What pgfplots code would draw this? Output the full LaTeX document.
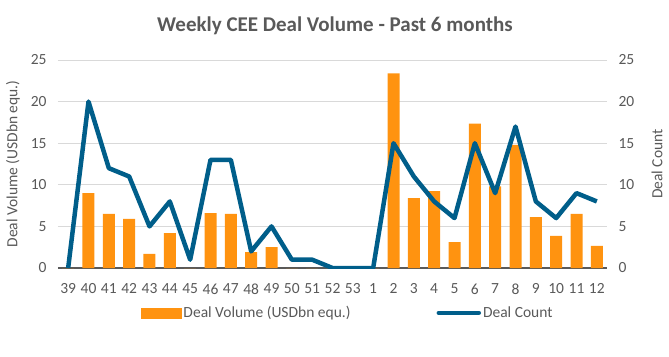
\documentclass[border=0pt]{standalone}
\usepackage{pgfplots}
\pgfplotsset{compat=1.18}
\usepackage{fontspec}
\setmainfont{Carlito}
\definecolor{barorange}{RGB}{255,147,16}
\definecolor{lineblue}{RGB}{0,94,138}
\definecolor{txtgray}{RGB}{89,89,89}
\definecolor{gridgray}{RGB}{217,217,217}
\newcommand{\tfont}{\fontsize{15.5}{18}\selectfont}
\begin{document}
\begin{tikzpicture}
\path[use as bounding box] (-58pt,-88pt) rectangle (611pt,268pt);
\pgfplotsset{common/.style={
  scale only axis, width=549pt, height=208pt, at={(0pt,0pt)}, anchor=south west,
  xmin=-0.5, xmax=26.5, ymin=0, ymax=25, ytick={0,5,10,15,20,25},
  axis line style={draw=none}, major tick length=0pt,
  tick label style={font=\tfont, text=txtgray},
  label style={font=\tfont, text=txtgray},
  /pgf/number format/assume math mode=true,
}}
\begin{axis}[common,
  ymajorgrids, grid style={gridgray, line width=1pt},
  xtick={0,...,26},
  xticklabels={39,40,41,42,43,44,45,46,47,48,49,50,51,52,53,1,2,3,4,5,6,7,8,9,10,11,12},
  xticklabel style={yshift=-12pt},
  yticklabel style={xshift=-8pt},
  ylabel={Deal Volume (USDbn equ.)},
  ylabel style={at={(axis description cs:-0.082,0.5)}, anchor=center, rotate=0},
  title={Weekly CEE Deal Volume - Past 6 months},
  title style={at={(axis description cs:0.5045,1.106)}, anchor=base, font=\fontsize{21}{25}\selectfont\bfseries, text=txtgray},
]
\addplot[txtgray, line width=1.3pt, forget plot] coordinates {(-0.5,0) (26.5,0)};
\addplot[ybar, bar width=12pt, fill=barorange, draw=none, bar shift=0pt] coordinates {
(0,0) (1,9.0) (2,6.5) (3,5.9) (4,1.7) (5,4.2) (6,0) (7,6.6) (8,6.5) (9,1.9) (10,2.5)
(11,0) (12,0) (13,0) (14,0) (15,0) (16,23.4) (17,8.4) (18,9.25) (19,3.1) (20,17.35)
(21,9.8) (22,14.8) (23,6.1) (24,3.85) (25,6.5) (26,2.65)};
\end{axis}
\begin{axis}[common,
  xtick=\empty,
  axis y line*=right,
  yticklabel style={xshift=8pt},
  ylabel={Deal Count},
  ylabel style={at={(axis description cs:1.091,0.5)}, anchor=center, rotate=0},
  legend columns=2,
  legend style={at={(axis description cs:0.151,-0.216)}, anchor=west, draw=none, fill=none,
    inner sep=0pt, font=\tfont, text=txtgray,
    /tikz/every even column/.style={column sep=84pt},
    nodes={inner sep=2pt}},
]
\addlegendimage{legend image code/.code={\fill[barorange] (0pt,-5pt) rectangle (40pt,5pt);}}
\addlegendentry{Deal Volume (USDbn equ.)}
\addplot[lineblue, line width=4.5pt, line join=round,
  legend image code/.code={\draw[lineblue, line width=4.5pt, line cap=round] (2pt,0pt) -- (42pt,0pt);}]
 coordinates {
(0,0) (1,20) (2,12) (3,11) (4,5) (5,8) (6,1) (7,13) (8,13) (9,2) (10,5)
(11,1) (12,1) (13,0) (14,0) (15,0) (16,15) (17,11) (18,8) (19,6) (20,15)
(21,9) (22,17) (23,8) (24,6) (25,9) (26,8)};
\addlegendentry{Deal Count}
\end{axis}
\end{tikzpicture}
\end{document}
